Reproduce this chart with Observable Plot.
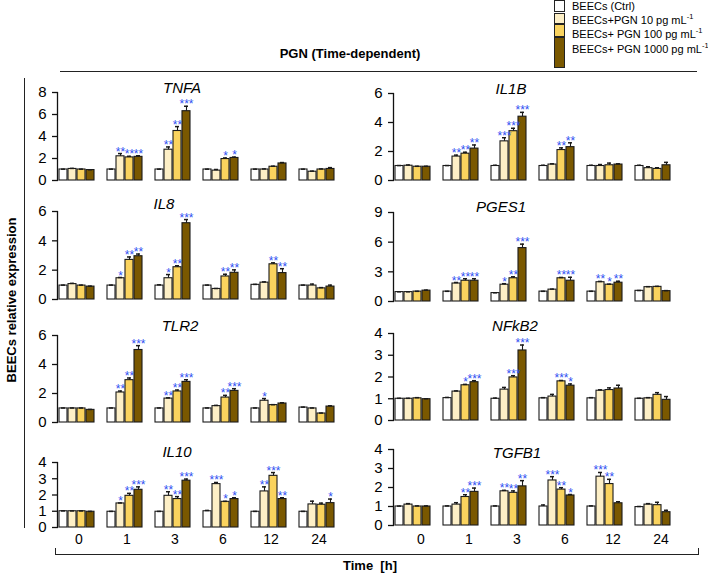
<!DOCTYPE html>
<html><head><meta charset="utf-8">
<script src="https://cdn.jsdelivr.net/npm/d3@7"></script>
<script src="https://cdn.jsdelivr.net/npm/@observablehq/plot@0.6"></script>
<style>
body{margin:0;background:#fff;font-family:Arial,"Liberation Sans",sans-serif;}
#fig{position:relative;width:708px;height:573px;overflow:hidden;background:#fff;}
.abs{position:absolute;white-space:nowrap;}
.ctr{transform:translate(-50%,-50%);}
svg{overflow:visible;}
</style></head>
<body><div id="fig"></div>
<script>
// ---------- data ----------
const times = ["0","1","3","6","12","24"];
const series = ["Ctrl","10","100","1000"];
const seriesColors = ["#ffffff","#fdefc6","#fad35e","#7a5800"];
const legendLabels = ["BEECs (Ctrl)","BEECs+PGN 10 pg mL","BEECs+ PGN 100 pg mL","BEECs+ PGN 1000 pg mL"];
const genes = ["TNFA","IL1B","IL8","PGES1","TLR2","NFkB2","IL10","TGFB1"];

const ticksTNFA = [0,2,4,6,8];
const ticksIL1B = [0,2,4,6];
const ticksIL8 = [0,2,4,6];
const ticksPGES1 = [0,3,6,9];
const ticksTLR2 = [0,2,4,6];
const ticksNFkB2 = [0,1,2,3,4];
const ticksIL10 = [0,1,2,3,4];
const ticksTGFB1 = [0,1,2,3,4];

const meanTNFA = [[1.0,1.05,1.0,0.95],[1.0,2.2,2.1,2.15],[1.0,2.8,4.5,6.3],[1.0,0.9,1.95,2.05],[1.0,1.0,1.25,1.55],[1.0,0.8,1.0,1.05]];
const errTNFA  = [[0.03,0.05,0.03,0.03],[0.03,0.25,0.1,0.1],[0.03,0.25,0.4,0.45],[0.03,0.1,0.1,0.08],[0.03,0.05,0.05,0.08],[0.03,0.05,0.05,0.12]];
const starTNFA = [["","","",""],["","**","**","**"],["","**","**","***"],["","","*","*"],["","","",""],["","","",""]];

const meanIL1B = [[1.0,1.02,0.95,0.95],[1.0,1.65,1.85,2.2],[1.0,2.7,3.4,4.4],[1.0,1.1,2.1,2.3],[1.0,1.0,1.05,1.1],[1.0,0.85,0.8,1.05]];
const errIL1B  = [[0.03,0.05,0.03,0.03],[0.03,0.1,0.1,0.25],[0.05,0.25,0.2,0.3],[0.05,0.05,0.15,0.3],[0.05,0.1,0.15,0.05],[0.05,0.1,0.08,0.2]];
const starIL1B = [["","","",""],["","**","**","**"],["","***","***","***"],["","","**","**"],["","","",""],["","","",""]];

const meanIL8 = [[0.95,1.05,0.95,0.88],[0.95,1.45,2.7,2.95],[0.95,1.45,2.2,5.2],[0.95,0.72,1.57,1.82],[1.0,1.15,2.4,1.8],[0.95,0.95,0.76,0.88]];
const errIL8  = [[0.03,0.05,0.03,0.03],[0.03,0.05,0.2,0.15],[0.05,0.25,0.1,0.25],[0.03,0.03,0.15,0.2],[0.03,0.05,0.1,0.3],[0.03,0.1,0.05,0.1]];
const starIL8 = [["","","",""],["","*","**","**"],["","*","**","***"],["","","**","**"],["","","**","**"],["","","",""]];

const meanPGES1 = [[0.95,0.95,1.0,1.1],[1.0,1.82,2.1,2.1],[0.85,1.7,2.35,5.4],[1.0,1.2,2.35,2.1],[1.0,1.95,1.7,1.9],[1.08,1.45,1.48,1.05]];
const errPGES1  = [[0.03,0.03,0.03,0.05],[0.03,0.1,0.2,0.2],[0.03,0.1,0.15,0.4],[0.03,0.05,0.08,0.35],[0.03,0.08,0.05,0.15],[0.03,0.05,0.05,0.05]];
const starPGES1 = [["","","",""],["","**","**","**"],["","*","**","***"],["","","**","**"],["","**","*","**"],["","","",""]];

const meanTLR2 = [[0.97,0.97,0.97,0.87],[0.97,2.07,2.92,5.0],[0.97,1.65,2.14,2.8],[0.97,1.13,1.72,2.18],[0.97,1.5,1.2,1.31],[1.03,0.97,0.62,1.1]];
const errTLR2  = [[0.03,0.03,0.03,0.03],[0.03,0.1,0.15,0.3],[0.03,0.05,0.1,0.15],[0.03,0.05,0.15,0.15],[0.03,0.15,0.03,0.05],[0.03,0.03,0.03,0.05]];
const starTLR2 = [["","","",""],["","**","**","***"],["","**","**","***"],["","","**","***"],["","*","",""],["","","",""]];

const meanNFkB2 = [[1.0,1.0,1.02,0.98],[1.03,1.33,1.62,1.76],[1.0,1.42,1.98,3.22],[1.02,1.1,1.8,1.6],[1.02,1.37,1.4,1.47],[1.0,1.02,1.18,0.95]];
const errNFkB2  = [[0.02,0.02,0.03,0.02],[0.03,0.03,0.04,0.07],[0.03,0.1,0.08,0.25],[0.03,0.1,0.04,0.08],[0.03,0.04,0.1,0.15],[0.02,0.03,0.1,0.15]];
const starNFkB2 = [["","","",""],["","","*","***"],["","","***","***"],["","","***","*"],["","","",""],["","","",""]];

const meanIL10 = [[1.0,1.0,1.0,0.97],[0.97,1.48,1.95,2.32],[0.97,1.95,1.75,2.88],[1.0,2.67,1.58,1.75],[0.97,2.22,3.18,1.75],[0.97,1.42,1.4,1.5]];
const errIL10  = [[0.02,0.02,0.02,0.02],[0.02,0.03,0.15,0.18],[0.02,0.25,0.15,0.1],[0.05,0.1,0.03,0.08],[0.02,0.28,0.2,0.08],[0.02,0.2,0.1,0.25]];
const starIL10 = [["","","",""],["","*","**","***"],["","**","**","***"],["","***","*","*"],["","**","***","**"],["","","","*"]];

const meanTGFB1 = [[1.0,1.1,1.0,1.0],[1.0,1.1,1.5,1.77],[1.0,1.8,1.72,2.06],[1.0,2.37,1.89,1.58],[1.0,2.57,2.18,1.17],[0.97,1.1,1.07,0.7]];
const errTGFB1  = [[0.02,0.05,0.03,0.03],[0.03,0.1,0.12,0.2],[0.03,0.05,0.1,0.3],[0.08,0.2,0.1,0.05],[0.03,0.22,0.25,0.08],[0.03,0.05,0.15,0.1]];
const starTGFB1 = [["","","",""],["","","**","***"],["","**","**","**"],["","***","**","*"],["","***","**",""],["","","",""]];

const dataByGene = {
  TNFA:[meanTNFA,errTNFA,starTNFA,ticksTNFA], IL1B:[meanIL1B,errIL1B,starIL1B,ticksIL1B],
  IL8:[meanIL8,errIL8,starIL8,ticksIL8], PGES1:[meanPGES1,errPGES1,starPGES1,ticksPGES1],
  TLR2:[meanTLR2,errTLR2,starTLR2,ticksTLR2], NFkB2:[meanNFkB2,errNFkB2,starNFkB2,ticksNFkB2],
  IL10:[meanIL10,errIL10,starIL10,ticksIL10], TGFB1:[meanTGFB1,errTGFB1,starTGFB1,ticksTGFB1]
};

// ---------- layout ----------
const layout = {
  TNFA: {col:0, zero:180, top:92,  tx:182, ty:87},
  IL1B: {col:1, zero:180, top:93,  tx:511, ty:88},
  IL8:  {col:0, zero:299, top:211, tx:164, ty:203},
  PGES1:{col:1, zero:301, top:212, tx:501, ty:206},
  TLR2: {col:0, zero:422, top:335, tx:180, ty:325},
  NFkB2:{col:1, zero:420, top:333, tx:515, ty:325},
  IL10: {col:0, zero:527, top:462, tx:177, ty:451, time:true, tdx:2, tpad:7},
  TGFB1:{col:1, zero:525, top:449, tx:517, ty:452, time:true, tdx:8, tpad:9}
};
const colAxisX = [56, 392];
const ML = 30, PW = 281, MR = 12, MT = 24;
const starColor = "#2f50f2";

const fig = document.getElementById("fig");
function addDiv(html, x, y, css, center=true){
  const d = document.createElement("div");
  d.className = "abs" + (center ? " ctr" : "");
  d.style.left = x + "px"; d.style.top = y + "px";
  d.innerHTML = html;
  Object.assign(d.style, css || {});
  fig.appendChild(d);
  return d;
}

genes.forEach(g => {
  const [means, errs, stars, ticks] = dataByGene[g];
  const L = layout[g];
  const rows = [];
  times.forEach((t,i) => series.forEach((s,j) => rows.push({time:t, series:s, v:means[i][j], e:errs[i][j], star:stars[i][j]})));
  const MB = L.time ? 30 : 6;
  const H = MT + (L.zero - L.top) + MB;
  const marks = [
    Plot.frame({anchor:"left", facetAnchor:"left", stroke:"#111", strokeWidth:1.3}),
    Plot.axisY({ticks:ticks, tickFormat:d=>String(d), tickSize:5, tickPadding:6, label:null, fontSize:15, facetAnchor:"left", stroke:"#111", strokeWidth:1.3}),
    Plot.barY(rows, {fx:"time", x:"series", y:"v", fill:"series", stroke:"#1a1a1a", strokeWidth:1.1}),
    Plot.ruleX(rows, {fx:"time", x:"series", y1:"v", y2:d=>d.v+d.e, stroke:"#1a1a1a", strokeWidth:1.1}),
    Plot.tickY(rows, {fx:"time", x:"series", y:d=>d.v+d.e, insetLeft:2, insetRight:2, stroke:"#1a1a1a", strokeWidth:1.5}),
    Plot.text(rows.filter(d=>d.star), {fx:"time", x:"series", y:d=>d.v+d.e, text:"star", lineAnchor:"bottom", dy:2, fill:starColor, fontSize:12})
  ];
  if (L.time) marks.push(Plot.axisFx({anchor:"bottom", tickSize:0, tickPadding:L.tpad, fontSize:14, label:null, dx:L.tdx}));
  const p = Plot.plot({
    width: ML + PW + MR, height: H,
    marginLeft: ML, marginRight: MR, marginTop: MT, marginBottom: MB,
    style: {background:"transparent", overflow:"visible", fontFamily:"Arial, 'Liberation Sans', sans-serif"},
    fx: {domain: times, paddingInner: 0.19, paddingOuter: 0, axis: null, label: null},
    x: {domain: series, axis: null, paddingInner: 0.06, paddingOuter: 0},
    y: {domain: [0, ticks[ticks.length-1]], axis: null},
    color: {domain: series, range: seriesColors},
    marks
  });
  const wrap = document.createElement("div");
  wrap.className = "abs";
  wrap.style.left = (colAxisX[L.col] - ML) + "px";
  wrap.style.top = (L.top - MT) + "px";
  wrap.appendChild(p);
  fig.appendChild(wrap);
  addDiv(g, L.tx, L.ty, {fontStyle:"italic", fontSize:"15px"});
});

// titles / annotations
addDiv("PGN (Time-dependent)", 350, 53, {fontWeight:"bold", fontSize:"13px"});
addDiv("", 60, 71, {width:"637px", height:"0px", borderTop:"1.5px solid #222"}, false);
addDiv("", 24, 78, {width:"0px", height:"450px", borderLeft:"1.3px solid #222"}, false);
addDiv("BEECs relative expression", 11, 300, {fontWeight:"bold", fontSize:"13px", transform:"translate(-50%,-50%) rotate(-90deg)"});
addDiv("", 55, 548, {width:"642px", height:"6px", border:"1.3px solid #222", borderTop:"none"}, false);
addDiv("Time&nbsp;&nbsp;[h]", 370, 565, {fontWeight:"bold", fontSize:"13px"});

// legend
const legBoxes = [[0,12],[13,24],[24,37],[37,68]];
const legTextY = [6,19,33,48];
legendLabels.forEach((lab,i) => {
  const [y0,y1] = legBoxes[i];
  addDiv("", 554, y0, {width:"11px", height:(y1-y0)+"px", background:seriesColors[i], border:"1.2px solid #222", boxSizing:"border-box"}, false);
  const sup = i === 0 ? "" : "<sup style='font-size:7.5px;vertical-align:5px'>-1</sup>";
  addDiv(lab + sup, 572, legTextY[i], {fontSize:"11px", transform:"translateY(-50%)"}, false);
});
</script>
</body></html>
